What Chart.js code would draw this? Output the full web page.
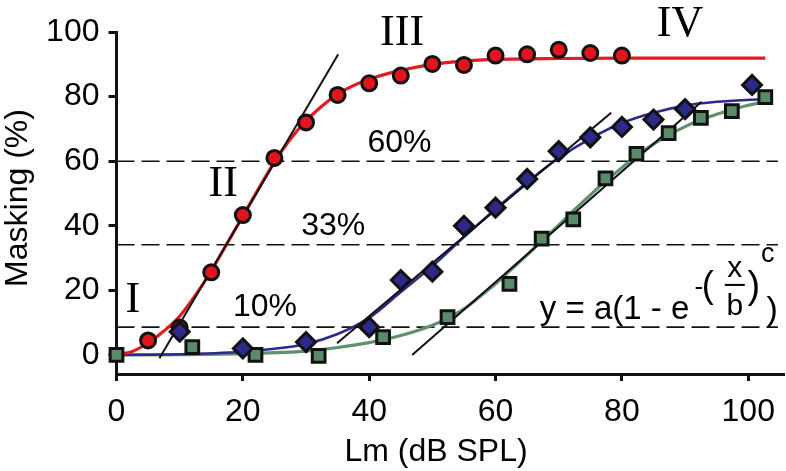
<!DOCTYPE html>
<html>
<head>
<meta charset="utf-8">
<script src="https://cdn.jsdelivr.net/npm/chart.js@4.4.1/dist/chart.umd.min.js"></script>
<style>
  html, body { margin: 0; padding: 0; background: #fff; }
</style>
</head>
<body>
<canvas id="chart" width="786" height="471"></canvas>
<script>
// ---- data ----
const xTicks = [0, 20, 40, 60, 80, 100];
const yTicks = [0, 20, 40, 60, 80, 100];

// measured points
const redX = [5, 10, 15, 20, 25, 30, 35, 40, 45, 50, 55, 60, 65, 70, 75, 80];
const redY = [4.5, 8.5, 25.6, 43.3, 61, 72, 80.5, 84.1, 86.5, 90.1, 89.8, 92.7, 93.1, 94.5, 93.5, 92.7];

const blueX = [10, 20, 30, 40, 45, 50, 55, 60, 65, 70, 75, 80, 85, 90, 100.6];
const blueY = [7.2, 2, 4, 8.6, 23.2, 25.8, 40, 45.6, 54.5, 63.1, 67.4, 70.6, 72.9, 76.1, 83.6];

const greenX = [0, 12, 22, 32, 42.2, 52.4, 62.2, 67.3, 72.3, 77.4, 82.3, 87.4, 92.5, 97.4, 102.7];
const greenY = [0, 2.4, 0, -0.3, 5.5, 11.7, 22, 36, 42, 54.7, 62.3, 68.7, 73.4, 75.5, 79.8];

// fitted curves (traced)
const redCurveX = [0, 2.5, 5, 7.5, 10, 12.5, 15, 17.5, 20, 22.5, 25, 27.5, 30, 32.5, 35, 37.5, 40, 45, 50, 55, 60, 70, 80, 90, 102.7];
const redCurveY = [0, 1.1, 3.7, 7.4, 12, 18.5, 26, 34.5, 43, 51.5, 59.8, 66.8, 72.5, 77, 80.8, 83.4, 85.4, 88.1, 90, 91, 91.5, 91.8, 91.9, 91.9, 91.9];

const blueCurveX = [0, 10, 20, 25, 30, 35, 40, 45, 50, 55, 60, 65, 70, 75, 80, 85, 90, 95, 102];
const blueCurveY = [0, 0.2, 1, 1.9, 3.4, 6.5, 11.5, 19.5, 27.5, 36.5, 45.2, 53.5, 61, 67, 71.8, 75, 77.2, 78.4, 79.2];

const greenCurveX = [0, 10, 20, 30, 35, 40, 45, 50, 52.5, 55, 57.5, 60, 62.5, 65, 67.5, 70, 72.5, 75, 77.5, 80, 82.5, 85, 87.5, 90, 92.5, 95, 97.5, 100, 102.3];
const greenCurveY = [0, 0.1, 0.4, 1.2, 2.3, 3.8, 6, 9.2, 11.5, 14.3, 18, 22, 26.5, 31, 35.7, 40.2, 45, 49.5, 54, 58, 62, 65.3, 68.2, 70.7, 72.8, 74.5, 76, 77.3, 78.3];

// tangent lines
const redTanX = [6.8, 35.1];
const redTanY = [-1, 93.1];
const blueTanX = [34.9, 78.3];
const blueTanY = [3.6, 75];
const greenTanX = [46.8, 92.6];
const greenTanY = [0, 78.4];

// threshold lines
const levelY = [60, 34.1, 8.6];
const levelX = [0, 104.7];

// annotations
const romanText = ["I", "II", "III", "IV"];
const romanX = [2.6, 16.9, 45.2, 89.2];
const romanY = [17, 52.7, 99.5, 102.3];
const pctText = ["60%", "33%", "10%"];
const pctX = [44.8, 34.3, 23.5];
const pctY = [65.6, 40, 14.7];
const formulaX = 67;
const formulaY = 11;

const SANS = "'Liberation Sans', Arial, Helvetica, sans-serif";
const SERIF = "'Liberation Serif', 'Times New Roman', serif";

function pts(xs, ys) {
  return xs.map((x, i) => ({ x: x, y: ys[i] }));
}

function lineSet(xs, ys, color, width, order) {
  return {
    data: pts(xs, ys),
    showLine: true,
    borderColor: color,
    borderWidth: width,
    pointRadius: 0,
    cubicInterpolationMode: "monotone",
    order: order
  };
}

const datasets = [];

// dashed levels
levelY.forEach(v => {
  datasets.push({
    data: pts(levelX, [v, v]),
    showLine: true,
    borderColor: "#111",
    borderWidth: 1.6,
    borderDash: [18, 7],
    pointRadius: 0,
    order: 4
  });
});

datasets.push(lineSet(redCurveX, redCurveY, "#e11b22", 3.2, 3));
datasets.push(lineSet(blueCurveX, blueCurveY, "#2e2a8c", 2.6, 3));
datasets.push(lineSet(greenCurveX, greenCurveY, "#5f9170", 3.2, 3));

datasets.push(lineSet(redTanX, redTanY, "#111", 2, 2));
datasets.push(lineSet(blueTanX, blueTanY, "#111", 2, 2));
datasets.push(lineSet(greenTanX, greenTanY, "#111", 2, 2));

datasets.push({
  data: pts(greenX, greenY),
  pointStyle: "rect",
  pointRadius: 9,
  backgroundColor: "#5b8a6b",
  borderColor: "#111",
  borderWidth: 3,
  clip: false,
  order: 1
});
datasets.push({
  data: pts(blueX, blueY),
  pointStyle: "rectRot",
  pointRadius: 9.5,
  backgroundColor: "#2c2a88",
  borderColor: "#111",
  borderWidth: 3,
  clip: false,
  order: 0
});
datasets.push({
  data: pts(redX, redY),
  pointStyle: "circle",
  pointRadius: 7.5,
  backgroundColor: "#e3141c",
  borderColor: "#111",
  borderWidth: 3,
  clip: false,
  order: 0
});

// text on the plot
const labelsPlugin = {
  id: "labels",
  afterDraw(chart) {
    const ctx = chart.ctx;
    const xs = chart.scales.x;
    const ys = chart.scales.y;
    ctx.save();
    ctx.fillStyle = "#000";

    // axis titles
    ctx.font = "32px " + SANS;
    ctx.textAlign = "center";
    ctx.textBaseline = "middle";
    ctx.fillText("Lm (dB SPL)", 436, 452);
    ctx.save();
    ctx.translate(18, 198);
    ctx.rotate(-Math.PI / 2);
    ctx.fillText("Masking (%)", 0, 0);
    ctx.restore();

    // roman numerals
    ctx.font = "44px " + SERIF;
    romanText.forEach((t, i) => {
      ctx.fillText(t, xs.getPixelForValue(romanX[i]), ys.getPixelForValue(romanY[i]));
    });

    // percentage labels
    ctx.font = "32px " + SANS;
    pctText.forEach((t, i) => {
      ctx.fillText(t, xs.getPixelForValue(pctX[i]), ys.getPixelForValue(pctY[i]));
    });

    // formula y = a(1 - e^-(x/b)^c)
    const fx = xs.getPixelForValue(formulaX);
    const fy = ys.getPixelForValue(formulaY);
    ctx.textBaseline = "alphabetic";
    ctx.textAlign = "left";
    ctx.font = "33px " + SANS;
    ctx.fillText("y = a(1 - e", fx, fy);
    ctx.textAlign = "center";
    ctx.font = "26px " + SANS;
    ctx.fillText("-", fx + 159, fy - 24);
    ctx.font = "36px " + SANS;
    ctx.fillText("(", fx + 168, fy - 22);
    ctx.font = "30px " + SANS;
    ctx.fillText("x", fx + 195, fy - 42.5);
    ctx.fillText("b", fx + 195, fy - 4.5);
    ctx.fillRect(fx + 185, fy - 35.5, 20, 2);
    ctx.font = "38px " + SANS;
    ctx.fillText(")", fx + 214, fy - 21);
    ctx.font = "27px " + SANS;
    ctx.fillText("c", fx + 228, fy - 57.5);
    ctx.font = "34px " + SANS;
    ctx.fillText(")", fx + 232.5, fy + 1);
    ctx.restore();
  }
};

new Chart(document.getElementById("chart"), {
  type: "scatter",
  data: { datasets: datasets },
  options: {
    responsive: false,
    animation: false,
    devicePixelRatio: 1,
    layout: { autoPadding: false, padding: { top: 32, right: 3, left: 0, bottom: 0 } },
    plugins: { legend: { display: false }, tooltip: { enabled: false } },
    scales: {
      x: {
        type: "linear",
        min: 0,
        max: 105.5,
        afterBuildTicks: s => { s.ticks = xTicks.map(v => ({ value: v })); },
        afterFit: s => { s.height = 97; s.paddingLeft = 0; s.paddingRight = 0; },
        border: { display: true, width: 3, color: "#111" },
        grid: { drawOnChartArea: false, drawTicks: true, tickLength: 7, lineWidth: 3, color: "#111" },
        ticks: { font: { family: SANS, size: 32 }, color: "#000", padding: 12, maxRotation: 0, autoSkip: false }
      },
      y: {
        type: "linear",
        min: -5.9,
        max: 100,
        afterBuildTicks: s => { s.ticks = yTicks.map(v => ({ value: v })); },
        afterFit: s => { s.width = 116.5; s.paddingTop = 0; s.paddingBottom = 0; },
        border: { display: true, width: 3, color: "#111" },
        grid: { drawOnChartArea: false, drawTicks: true, tickLength: 8, lineWidth: 3, color: "#111" },
        ticks: { font: { family: SANS, size: 32 }, color: "#000", padding: 9, autoSkip: false }
      }
    }
  },
  plugins: [labelsPlugin]
});
</script>
</body>
</html>
